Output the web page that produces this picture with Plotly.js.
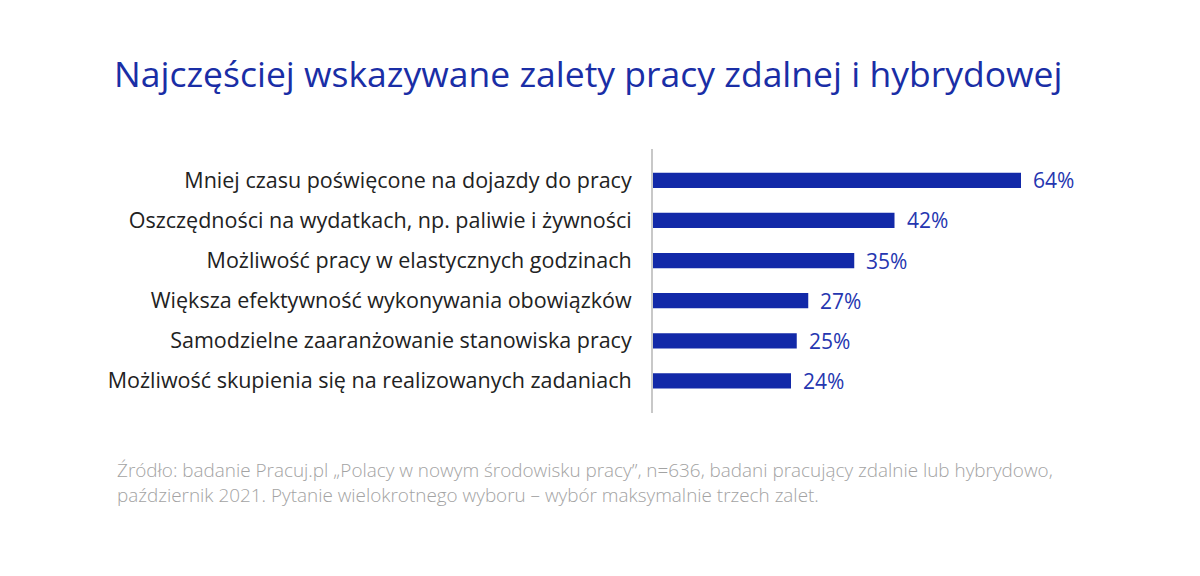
<!DOCTYPE html>
<html>
<head>
<meta charset="utf-8">
<script src="https://cdn.plot.ly/plotly-3.0.1.min.js"></script>
<style>
  html, body { margin: 0; padding: 0; background: #fff; }
  #chart { width: 1200px; height: 576px; }
</style>
</head>
<body>
<div id="chart"></div>
<script>
// Data (top to bottom)
const categories = [
	"Mniej czasu poświęcone na dojazdy do pracy",
	"Oszczędności na wydatkach, np. paliwie i żywności",
	"Możliwość pracy w elastycznych godzinach",
	"Większa efektywność wykonywania obowiązków",
	"Samodzielne zaaranżowanie stanowiska pracy",
	"Możliwość skupienia się na realizowanych zadaniach",
];
const values = [64, 42, 35, 27, 25, 24];
const valueLabels = ["64%", "42%", "35%", "27%", "25%", "24%"];

const titleText = "Najczęściej wskazywane zalety pracy zdalnej i hybrydowej";
const sourceText =
	"Źródło: badanie Pracuj.pl „Polacy w nowym środowisku pracy”, n=636, badani pracujący zdalnie lub hybrydowo,<br>" +
	"październik 2021. Pytanie wielokrotnego wyboru – wybór maksymalnie trzech zalet.";

// Plot area geometry (px)
const W = 1200, H = 576;
const ML = 653, MR = 100, MT = 149, MB = 163;
const PW = W - ML - MR;
const PH = H - MT - MB;
const pxX = (px) => (px - ML) / PW;
const pxY = (py) => (H - MB - py) / PH;

const barColor = "#1229a8";
const font = "'Open Sans', 'Noto Sans', sans-serif";

const data = [
	{
		type: "bar",
		orientation: "h",
		x: values,
		y: categories,
		width: 0.38,
		marker: { color: barColor },
		hoverinfo: "skip",
	},
];

const annotations = values.map((v, i) => ({
	x: v,
	y: categories[i],
	xref: "x",
	yref: "y",
	text: valueLabels[i],
	showarrow: false,
	xanchor: "left",
	yanchor: "middle",
	xshift: 10,
	font: { family: font, size: 21, color: "#2536b0" },
}));

annotations.push({
	x: pxX(115),
	y: pxY(455),
	xref: "paper",
	yref: "paper",
	xanchor: "left",
	yanchor: "top",
	align: "left",
	showarrow: false,
	text: sourceText,
	font: { family: font, size: 18.9, color: "#a3a3a3", weight: 300 },
});

const layout = {
	width: W,
	height: H,
	paper_bgcolor: "#fff",
	plot_bgcolor: "#fff",
	margin: { l: ML, r: MR, t: MT, b: MB },
	showlegend: false,
	title: {
		text: titleText,
		x: 114 / W,
		xanchor: "left",
		xref: "container",
		y: 1 - 75 / H,
		yanchor: "middle",
		yref: "container",
		font: { family: font, size: 35.5, color: "#1a2ea6" },
	},
	xaxis: {
		range: [0, PW / 5.75],
		showgrid: false,
		zeroline: false,
		showline: false,
		showticklabels: false,
		fixedrange: true,
	},
	yaxis: {
		range: [5.8, -0.78],
		showgrid: false,
		zeroline: false,
		showline: true,
		linecolor: "#c8c8c8",
		linewidth: 2,
		ticks: "",
		ticklabelstandoff: 15,
		tickfont: { family: font, size: 21.5, color: "#222" },
		fixedrange: true,
	},
	annotations: annotations,
};

const config = {
	displayModeBar: false,
	staticPlot: true,
};

Plotly.newPlot("chart", data, layout, config);
</script>
</body>
</html>
